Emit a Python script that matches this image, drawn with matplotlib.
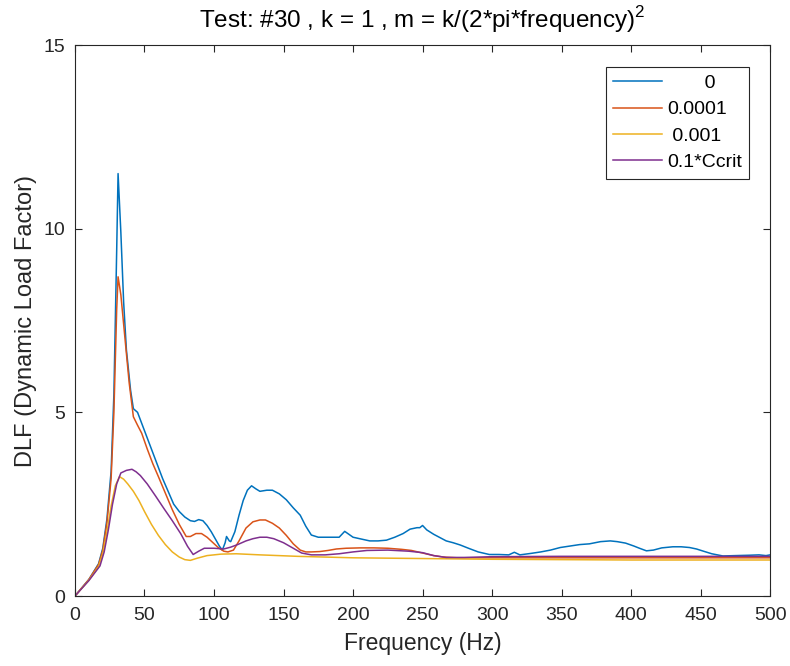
import numpy as np
import matplotlib
matplotlib.use("Agg")
import matplotlib.pyplot as plt

plt.rcParams['font.family'] = ['Liberation Sans', 'DejaVu Sans']
plt.rcParams['mathtext.fontset'] = 'custom'
plt.rcParams['mathtext.rm'] = 'Liberation Sans'

# damping = 0
f0 = [0, 10, 17, 20, 23, 26, 28, 30, 31, 33, 35, 37, 40, 42, 45, 48, 52, 55, 59, 63, 67, 71, 75, 79, 83, 86, 89, 92, 95, 98,
      101, 104, 106, 108, 109, 111, 112, 115, 118, 121, 124, 127, 130, 133, 138, 142, 147, 152, 157, 162, 166, 170, 175,
      180, 185, 190, 194, 197, 200, 206, 212, 218, 224, 230, 236, 241, 246, 248, 250, 253, 258, 263, 267, 272, 277, 283,
      290, 298, 305, 312, 316, 320, 328, 335, 342, 349, 356, 363, 370, 378, 385, 390, 396, 402, 406, 411, 416, 422, 430,
      436, 442, 447, 452, 458, 466, 475, 485, 492, 497, 500]
d0 = [0, 0.45, 0.88, 1.3, 2.1, 3.4, 5.5, 9.4, 11.5, 9.9, 8.0, 6.7, 5.6, 5.1, 5.0, 4.7, 4.3, 4.0, 3.6, 3.2, 2.85, 2.5, 2.3,
      2.15, 2.05, 2.03, 2.08, 2.05, 1.92, 1.75, 1.55, 1.35, 1.25, 1.45, 1.62, 1.5, 1.48, 1.75, 2.2, 2.6, 2.88, 3.0, 2.92,
      2.85, 2.88, 2.88, 2.78, 2.62, 2.4, 2.2, 1.9, 1.66, 1.6, 1.6, 1.6, 1.6, 1.76, 1.68, 1.6, 1.55, 1.5, 1.5, 1.52, 1.6,
      1.7, 1.82, 1.86, 1.86, 1.92, 1.8, 1.68, 1.58, 1.5, 1.45, 1.39, 1.3, 1.2, 1.13, 1.13, 1.12, 1.19, 1.12, 1.16, 1.2,
      1.25, 1.32, 1.36, 1.4, 1.42, 1.48, 1.5, 1.48, 1.44, 1.36, 1.3, 1.23, 1.25, 1.31, 1.34, 1.34, 1.32, 1.28, 1.22, 1.15,
      1.09, 1.1, 1.11, 1.12, 1.1, 1.12]

# damping = 0.0001
f1 = [0, 10, 17, 20, 23, 26, 28, 30, 31, 33, 36, 39, 42, 45, 48, 52, 56, 60, 65, 70, 75, 80, 83, 87, 91, 95, 99, 103, 107,
      110, 114, 118, 123, 128, 133, 137, 142, 147, 152, 157, 162, 166, 170, 176, 182, 188, 195, 205, 215, 225, 235, 242,
      250, 258, 265, 275, 300, 350, 400, 450, 500]
d1 = [0, 0.45, 0.86, 1.25, 2.0, 3.2, 5.0, 7.8, 8.69, 8.2, 7.0, 5.8, 4.88, 4.65, 4.43, 4.0, 3.6, 3.25, 2.8, 2.35, 1.95, 1.62,
      1.62, 1.7, 1.7, 1.6, 1.46, 1.32, 1.22, 1.2, 1.25, 1.5, 1.85, 2.02, 2.07, 2.07, 1.98, 1.85, 1.65, 1.42, 1.25, 1.2,
      1.2, 1.21, 1.24, 1.28, 1.3, 1.31, 1.31, 1.3, 1.27, 1.24, 1.17, 1.1, 1.06, 1.04, 1.04, 1.04, 1.04, 1.04, 1.04]

# damping = 0.001
f2 = [0, 10, 17, 20, 23, 26, 29, 32, 35, 38, 42, 46, 50, 55, 60, 65, 70, 75, 79, 83, 88, 95, 105, 116, 133, 160, 200, 250,
      300, 350, 400, 450, 500]
d2 = [0, 0.43, 0.8, 1.15, 1.75, 2.45, 3.0, 3.25, 3.18, 3.05, 2.85, 2.6, 2.3, 1.95, 1.65, 1.4, 1.2, 1.06, 0.99, 0.97, 1.03,
      1.1, 1.14, 1.15, 1.12, 1.08, 1.04, 1.02, 1.0, 0.99, 0.98, 0.98, 0.98]

# damping = 0.1*Ccrit
f3 = [0, 10, 18, 21, 24, 27, 30, 33, 37, 41, 44, 47, 52, 58, 64, 70, 76, 81, 85, 89, 93, 100, 107, 112, 117, 123, 128, 133,
      138, 143, 150, 157, 163, 170, 180, 190, 200, 210, 225, 240, 250, 258, 267, 280, 300, 350, 400, 450, 500]
d3 = [0, 0.42, 0.82, 1.2, 1.8, 2.5, 3.05, 3.35, 3.42, 3.45, 3.38, 3.28, 3.05, 2.72, 2.38, 2.05, 1.7, 1.35, 1.13, 1.22, 1.3,
      1.3, 1.28, 1.33, 1.4, 1.5, 1.56, 1.6, 1.6, 1.56, 1.45, 1.3, 1.17, 1.12, 1.12, 1.15, 1.2, 1.24, 1.25, 1.22, 1.18,
      1.1, 1.05, 1.05, 1.07, 1.08, 1.08, 1.08, 1.08]

labels = ['       0', '0.0001', ' 0.001', '0.1*Ccrit']
colors = ['#0072BD', '#D95319', '#EDB120', '#7E2F8E']

fig = plt.figure(figsize=(7.9, 6.66), dpi=100)
ax = fig.add_axes([0.0949, 0.1051, 0.88, 0.8273])

for f, d, lab, c in zip([f0, f1, f2, f3], [d0, d1, d2, d3], labels, colors):
    ax.plot(f, d, color=c, lw=1.1, label=lab)

ax.set_xlim(0, 500)
ax.set_ylim(0, 15)
ax.set_xticks(np.arange(0, 501, 50))
ax.set_yticks([0, 5, 10, 15])
ax.tick_params(direction='in', top=True, right=True, labelsize=14, colors='#262626',
               length=5, width=0.8)
ax.tick_params(axis='x', pad=8)
ax.tick_params(axis='y', pad=7)
for s in ax.spines.values():
    s.set_color('#262626')
    s.set_linewidth(0.8)

ax.set_xlabel('Frequency (Hz)', fontsize=16.5, color='#262626', labelpad=6)
ax.set_ylabel('DLF (Dynamic Load Factor)', fontsize=17, color='#262626', labelpad=5)
ax.set_title(r'Test: #30 , k = 1 , m = k/(2*pi*frequency)$^\mathrm{2}$', fontsize=17.5, color='black', pad=12)

leg = ax.legend(loc='upper right', bbox_to_anchor=(0.970, 0.960), fontsize=14, fancybox=False,
                edgecolor='#262626', framealpha=1, handlelength=2.5, handletextpad=0.27,
                borderpad=0.38, labelspacing=0.45, borderaxespad=0)
leg.get_frame().set_linewidth(0.8)

fig.savefig('out.png', dpi=100)
